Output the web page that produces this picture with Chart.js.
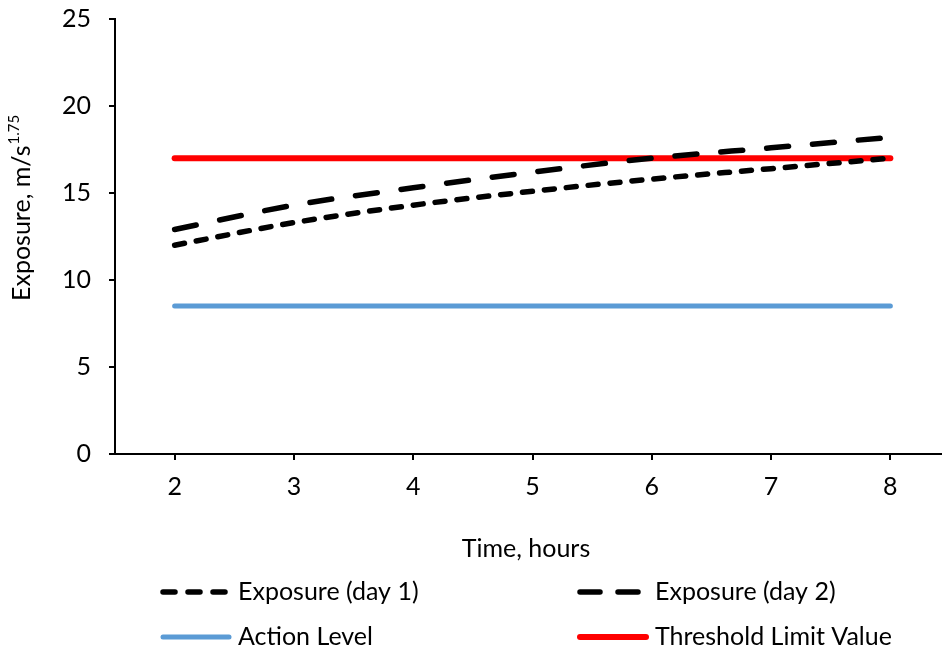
<!DOCTYPE html>
<html>
<head>
<meta charset="utf-8">
<script src="https://cdn.jsdelivr.net/npm/chart.js@4/dist/chart.umd.min.js"></script>
<style>
  html, body { margin: 0; padding: 0; overflow: hidden; background: #fff; }
</style>
</head>
<body>
<canvas id="exposureChart" width="950" height="654"></canvas>
<script>
const hours = [2, 3, 4, 5, 6, 7, 8];
const exposureDay1 = [12.0, 13.3, 14.3, 15.1, 15.8, 16.4, 17.0];
const exposureDay2 = [12.9, 14.3, 15.3, 16.2, 17.0, 17.6, 18.2];
const actionLevel = [8.5, 8.5, 8.5, 8.5, 8.5, 8.5, 8.5];
const thresholdLimit = [17, 17, 17, 17, 17, 17, 17];
const yTicks = [0, 5, 10, 15, 20, 25];

const FONT = 'Lato, "Liberation Sans", sans-serif';
const SIZE = 25;

const toPoints = vals => hours.map((h, i) => ({ x: h, y: vals[i] }));

// titles + two-column legend drawn onto the chart canvas
const extras = {
  id: 'extras',
  afterDraw(chart) {
    const ctx = chart.ctx;
    ctx.save();
    ctx.fillStyle = '#000';
    ctx.font = SIZE + 'px ' + FONT;
    ctx.textAlign = 'center';
    ctx.textBaseline = 'middle';
    ctx.fillText('Time, hours', 526, 549);

    ctx.save();
    ctx.translate(30, 301);
    ctx.rotate(-Math.PI / 2);
    ctx.textAlign = 'left';
    ctx.textBaseline = 'alphabetic';
    ctx.fillText('Exposure, m/s', 0, 0);
    const w = ctx.measureText('Exposure, m/s').width;
    ctx.font = '15px ' + FONT;
    ctx.fillText('1.75', w + 1, -11);
    ctx.restore();

    const spots = [[160, 592], [577, 592], [160, 637], [577, 637]];
    chart.data.datasets.forEach((ds, i) => {
      const [x, y] = spots[i];
      ctx.save();
      ctx.strokeStyle = ds.borderColor;
      ctx.lineWidth = ds.borderWidth;
      ctx.lineCap = 'round';
      ctx.setLineDash(ds.legendDash || []);
      ctx.beginPath();
      ctx.moveTo(x + 3, y);
      ctx.lineTo(x + 69, y);
      ctx.stroke();
      ctx.restore();
      ctx.font = SIZE + 'px ' + FONT;
      ctx.textAlign = 'left';
      ctx.textBaseline = 'middle';
      ctx.fillText(ds.label, x + 78, y);
    });
    ctx.restore();
  }
};

new Chart(document.getElementById('exposureChart'), {
  type: 'line',
  data: {
    datasets: [
      {
        label: 'Exposure (day 1)',
        data: toPoints(exposureDay1),
        borderColor: '#000',
        borderWidth: 5.5,
        borderDash: [10, 12],
        legendDash: [12, 13],
        borderCapStyle: 'round',
        cubicInterpolationMode: 'monotone'
      },
      {
        label: 'Exposure (day 2)',
        data: toPoints(exposureDay2),
        borderColor: '#000',
        borderWidth: 5.5,
        borderDash: [22, 24],
        legendDash: [20, 18],
        borderCapStyle: 'round',
        cubicInterpolationMode: 'monotone'
      },
      {
        label: 'Action Level',
        data: toPoints(actionLevel),
        borderColor: '#5B9BD5',
        borderWidth: 5,
        borderCapStyle: 'round'
      },
      {
        label: 'Threshold Limit Value',
        data: toPoints(thresholdLimit),
        borderColor: '#FF0000',
        borderWidth: 6,
        borderCapStyle: 'round'
      }
    ]
  },
  options: {
    responsive: false,
    animation: false,
    events: [],
    layout: { padding: { top: 19, left: 0, right: 0, bottom: 0 } },
    elements: { point: { radius: 0 } },
    plugins: { legend: { display: false }, tooltip: { enabled: false } },
    scales: {
      x: {
        type: 'linear',
        min: 1.5,
        max: 8.5,
        afterBuildTicks: s => { s.ticks = hours.map(v => ({ value: v })); },
        afterFit: s => { s.height = 200; s.paddingLeft = 0; s.paddingRight = 0; },
        border: { color: '#000', width: 2 },
        grid: { drawOnChartArea: false, drawTicks: true, tickLength: 6, color: '#000', lineWidth: 2 },
        ticks: { color: '#000', font: { family: FONT, size: SIZE }, padding: 12, maxRotation: 0 }
      },
      y: {
        min: 0,
        max: 25,
        afterBuildTicks: s => { s.ticks = yTicks.map(v => ({ value: v })); },
        afterFit: s => { s.width = 115; s.paddingTop = 0; s.paddingBottom = 0; },
        border: { color: '#000', width: 2 },
        grid: { drawOnChartArea: false, drawTicks: true, tickLength: 6, color: '#000', lineWidth: 2 },
        ticks: { color: '#000', font: { family: FONT, size: SIZE }, padding: 18 }
      }
    }
  },
  plugins: [extras]
});
</script>
</body>
</html>
